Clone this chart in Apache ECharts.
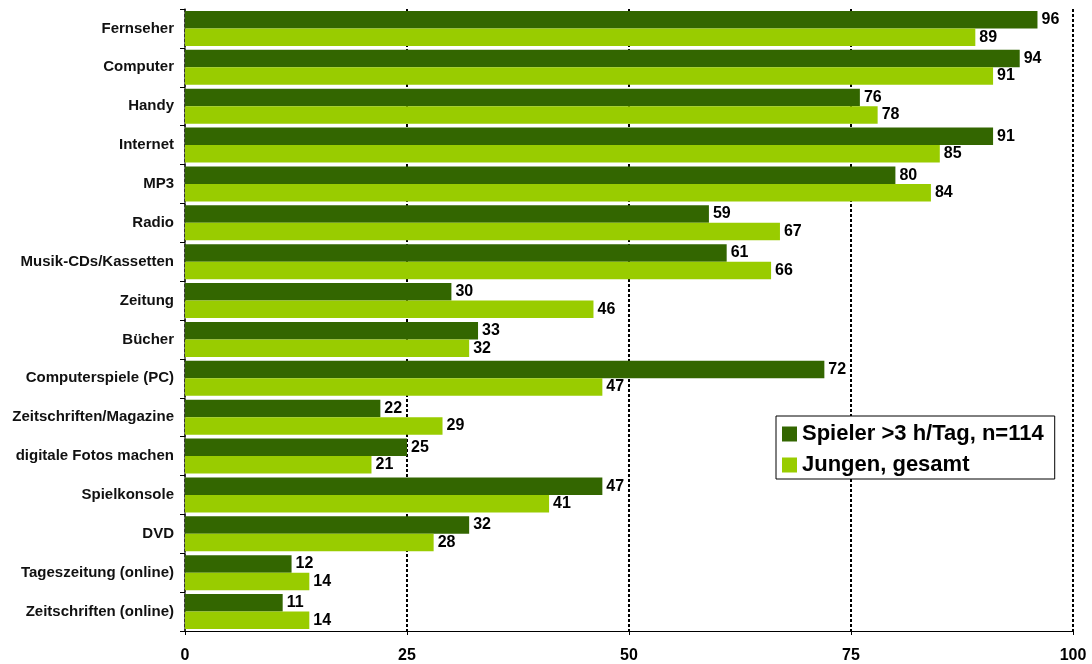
<!DOCTYPE html>
<html>
<head>
<meta charset="utf-8">
<script src="https://cdn.jsdelivr.net/npm/echarts@6/dist/echarts.min.js"></script>
<style>html,body{margin:0;padding:0;background:#fff}#c{width:1092px;height:664px}</style>
</head>
<body>
<div id="c"></div>
<script>
const categories = ["Fernseher","Computer","Handy","Internet","MP3","Radio","Musik-CDs/Kassetten","Zeitung","Bücher","Computerspiele (PC)","Zeitschriften/Magazine","digitale Fotos machen","Spielkonsole","DVD","Tageszeitung (online)","Zeitschriften (online)"];
const spieler = [96,94,76,91,80,59,61,30,33,72,22,25,47,32,12,11];
const jungen = [89,91,78,85,84,67,66,46,32,47,29,21,41,28,14,14];
const seriesNames = ["Spieler >3 h/Tag, n=114", "Jungen, gesamt"];
const xTicks = [0,25,50,75,100];

const font = "Liberation Sans, Arial, sans-serif";
const chart = echarts.init(document.getElementById('c'));
const labelCfg = {show:true, position:'right', distance:4, color:'#000', fontFamily:font, fontWeight:'bold', fontSize:16};
chart.setOption({
  animation:false,
  grid:{left:185, right:19, top:9, bottom:33, containLabel:false},
  legend:{
    orient:'vertical', left:776, top:416,
    data: seriesNames,
    backgroundColor:'#fff', borderColor:'#000', borderWidth:1,
    padding:[7,11,3,6], itemGap:9,
    itemWidth:15, itemHeight:15, icon:'rect',
    textStyle:{fontFamily:font, fontWeight:'bold', fontSize:22, color:'#000'}
  },
  xAxis:{
    type:'value', min:0, max:100, interval:25,
    axisLine:{show:true, lineStyle:{color:'#000', width:1}},
    axisTick:{show:true, length:4, lineStyle:{color:'#000'}},
    axisLabel:{margin:17, color:'#000', fontFamily:font, fontWeight:'bold', fontSize:16,
      formatter: v => xTicks.includes(v) ? String(v) : ''},
    splitLine:{show:true, lineStyle:{color:'#000', type:[3,2], width:2}}
  },
  yAxis:{
    type:'category', data:categories, inverse:true,
    axisLine:{show:true, lineStyle:{color:'#444', width:1.5}},
    axisTick:{show:true, length:5, lineStyle:{color:'#000'}},
    axisLabel:{margin:11, color:'#111', fontFamily:font, fontWeight:'bold', fontSize:15}
  },
  series:[
    {name:seriesNames[0], type:'bar', data:spieler, itemStyle:{color:'#336600'}, barGap:'0%', barCategoryGap:'10%', label:labelCfg, z:3},
    {name:seriesNames[1], type:'bar', data:jungen, itemStyle:{color:'#99cc00'}, barGap:'0%', barCategoryGap:'10%', label:labelCfg, z:3}
  ]
});
</script>
</body>
</html>
